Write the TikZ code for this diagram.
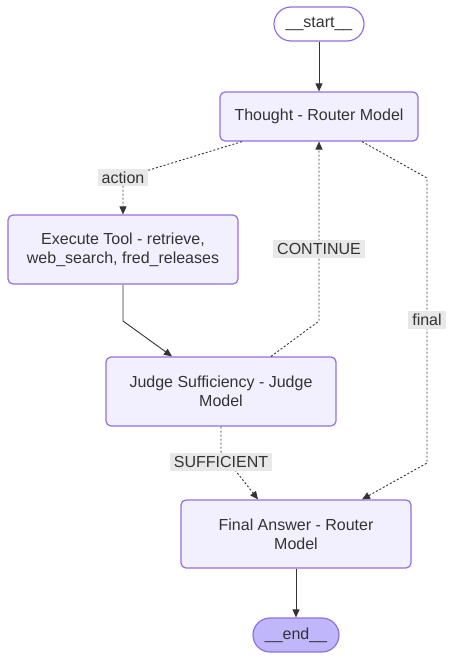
\documentclass[tikz,border=0pt]{standalone}
\usepackage{fontspec}
\setmainfont{Liberation Sans}
\usetikzlibrary{arrows.meta}
\definecolor{nodefill}{HTML}{F2F0FF}
\definecolor{nodeline}{HTML}{9370DB}
\definecolor{endfill}{HTML}{BFB6FC}
\definecolor{txt}{HTML}{333333}
\definecolor{lblbg}{HTML}{E8E8E8}
\tikzset{
  box/.style={draw=nodeline, fill=nodefill, line width=1.2pt, rounded corners=5pt,
    text=txt, align=center, inner sep=0pt, font=\fontsize{16}{19}\selectfont},
  term/.style={draw=nodeline, line width=1.2pt, rounded corners=17pt,
    text=txt, align=center, inner sep=0pt, font=\fontsize{16}{19}\selectfont},
  lbl/.style={fill=lblbg, text=txt, inner xsep=4pt, inner ysep=3pt, font=\fontsize{16}{19}\selectfont},
  edge/.style={draw=txt, line width=0.9pt, -{Triangle[length=8pt,width=7pt]}},
  dotedge/.style={edge, dash pattern=on 2pt off 2pt},
}
\begin{document}
\begin{tikzpicture}[x=1pt,y=-1pt]
\useasboundingbox (0,0) rectangle (454,661);
\node[term, fill=white, minimum width=90pt, minimum height=34pt] (start) at (319,24) {\_\_start\_\_};
\node[box, minimum width=198pt, minimum height=49pt] (thought) at (319,116.5) {Thought - Router Model};
\node[box, minimum width=230pt, minimum height=69pt] (exec) at (123,249.5) {Execute Tool - retrieve,\\web\_search, fred\_releases};
\node[box, minimum width=230pt, minimum height=69pt] (judge) at (221,391.5) {Judge Sufficiency - Judge\\Model};
\node[box, minimum width=230pt, minimum height=68pt] (final) at (296,534) {Final Answer - Router\\Model};
\node[term, fill=endfill, minimum width=86pt, minimum height=34pt] (end) at (296,635) {\_\_end\_\_};

\coordinate (a1) at (123,178);
\coordinate (e1) at (123,321);
\coordinate (c1) at (319,321);
\coordinate (f1) at (427,178);
\coordinate (f2) at (427,463);
\coordinate (s1) at (221,452);

\draw[edge] (start.south) -- (thought.north);
\draw[dotedge] ([xshift=-77pt]thought.south) -- (a1) -- (exec.north);
\node[lbl] (lact) at (123,177.5) {action};
\draw[edge] (exec.south) -- (e1) -- ([xshift=-49pt]judge.north);
\draw[dotedge] ([xshift=50pt]judge.north) -- (c1) -- (thought.south);
\node[lbl] (lcont) at (319,249) {CONTINUE};
\draw[dotedge] ([xshift=43pt]thought.south) -- (f1) -- (f2) -- ([xshift=66pt]final.north);
\node[lbl] (lfin) at (427,320) {final};
\draw[dotedge] (judge.south) -- (s1) -- ([xshift=-38pt]final.north);
\node[lbl] (lsuf) at (221,462) {SUFFICIENT};
\draw[edge] (final.south) -- (end.north);
\end{tikzpicture}
\end{document}
